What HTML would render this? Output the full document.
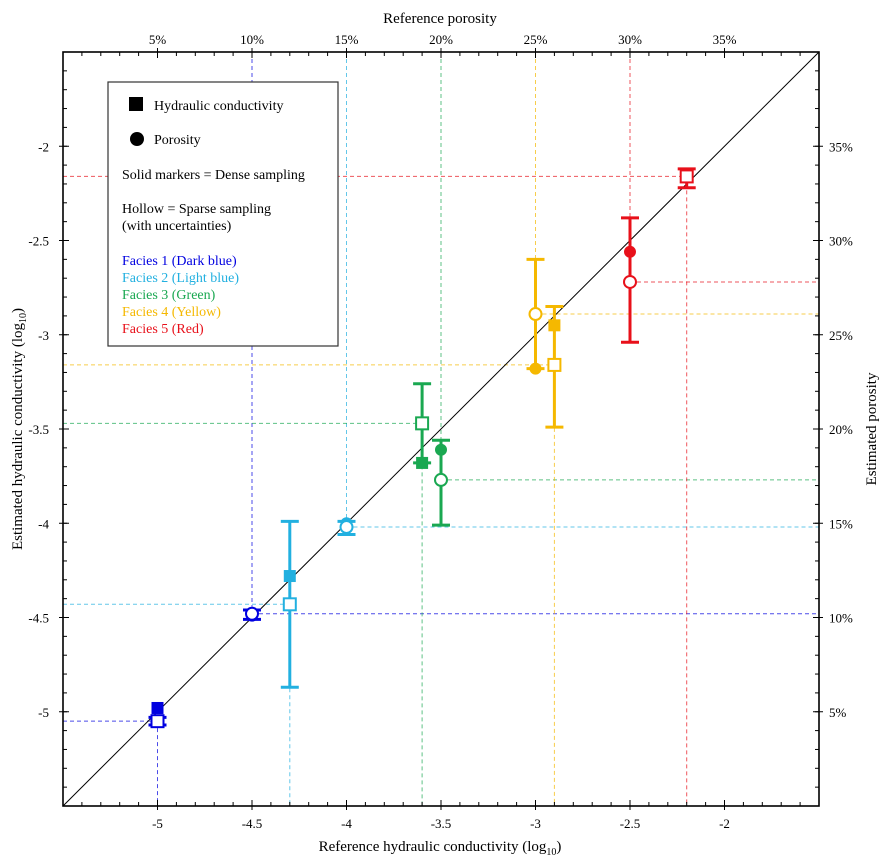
<!DOCTYPE html>
<html><head><meta charset="utf-8"><style>
body{margin:0;background:#fff;}
svg{display:block;font-family:"Liberation Serif",serif;}
</style></head><body>
<svg id="chart" width="895" height="863" xmlns="http://www.w3.org/2000/svg">
<g id="grid"></g>
<line id="diag" stroke="#000" stroke-width="1"/>
<g id="marks"></g>
<rect x="63" y="52" width="756" height="754" fill="none" stroke="#000" stroke-width="1.6"/>
<g id="axes" font-size="13"></g>
<text x="440" y="851" font-size="15" text-anchor="middle">Reference hydraulic conductivity (log<tspan font-size="10" dy="4">10</tspan><tspan dy="-4">)</tspan></text>
<text x="440" y="23" font-size="15" text-anchor="middle">Reference porosity</text>
<text transform="translate(22,429) rotate(-90)" font-size="15" text-anchor="middle">Estimated hydraulic conductivity (log<tspan font-size="10" dy="4">10</tspan><tspan dy="-4">)</tspan></text>
<text transform="translate(876,429) rotate(-90)" font-size="15" text-anchor="middle">Estimated porosity</text>
<g>
<rect x="108" y="82" width="230" height="264" fill="#fff" stroke="#333" stroke-width="1.2"/>
<rect x="129" y="97" width="14" height="14" fill="#000"/>
<text x="154" y="110" font-size="14">Hydraulic conductivity</text>
<circle cx="137" cy="139" r="7" fill="#000"/>
<text x="154" y="144" font-size="14">Porosity</text>
<text x="122" y="179" font-size="14">Solid markers = Dense sampling</text>
<text x="122" y="213" font-size="14">Hollow = Sparse sampling</text>
<text x="122" y="230" font-size="14">(with uncertainties)</text>
<text x="122" y="265" font-size="14" fill="#0000e0">Facies 1 (Dark blue)</text>
<text x="122" y="282" font-size="14" fill="#22b0e0">Facies 2 (Light blue)</text>
<text x="122" y="299" font-size="14" fill="#1aa851">Facies 3 (Green)</text>
<text x="122" y="316" font-size="14" fill="#f5b800">Facies 4 (Yellow)</text>
<text x="122" y="333" font-size="14" fill="#e8101a">Facies 5 (Red)</text>
</g>
</svg>
<script>
const colors=["#0000e0","#22b0e0","#1aa851","#f5b800","#e8101a"];
const kRef=[-5,-4.3,-3.6,-2.9,-2.2];
const kDense=[-4.98,-4.28,-3.68,-2.95,-2.16];
const kSparse=[-5.05,-4.43,-3.47,-3.16,-2.16];
const kLow=[-5.07,-4.87,-3.68,-3.49,-2.22];
const kHigh=[-5.03,-3.99,-3.26,-2.85,-2.12];
const pRef=[10,15,20,25,30];
const pDense=[-4.49,-4.0,-3.61,-3.18,-2.56];
const pSparse=[-4.48,-4.02,-3.77,-2.89,-2.72];
const pLow=[-4.51,-4.06,-4.01,-3.18,-3.04];
const pHigh=[-4.46,-3.99,-3.56,-2.60,-2.38];
const xTicks=[-5,-4.5,-4,-3.5,-3,-2.5,-2];
const yTicks=[-2,-2.5,-3,-3.5,-4,-4.5,-5];
const pctTicks=[5,10,15,20,25,30,35];
const X0=63,X1=819,Y0=52,Y1=806;
const xs=v=>X0+(v+5.5)/4*(X1-X0);
const ys=v=>Y0+(-1.5-v)/4*(Y1-Y0);
const pv=p=>-5.5+p/10;
const NS="http://www.w3.org/2000/svg";
function mk(parent,tag,attrs){const e=document.createElementNS(NS,tag);for(const k in attrs)e.setAttribute(k,attrs[k]);parent.appendChild(e);return e;}
const grid=document.getElementById('grid'),marks=document.getElementById('marks'),axes=document.getElementById('axes');
const d=document.getElementById('diag');d.setAttribute('x1',xs(-5.5));d.setAttribute('y1',ys(-5.5));d.setAttribute('x2',xs(-1.5));d.setAttribute('y2',ys(-1.5));
function dl(x1,y1,x2,y2,c,name){const l=mk(grid,'line',{x1,y1,x2,y2,stroke:c,'stroke-width':1,'stroke-dasharray':'4,3',opacity:0.7});

}
for(let i=0;i<5;i++){
 const c=colors[i];
 dl(xs(kRef[i]),ys(kSparse[i]),xs(kRef[i]),Y1,c,'k-ref-vline');
 dl(X0,ys(kSparse[i]),xs(kRef[i]),ys(kSparse[i]),c,'k-ref-hline');
 const px=xs(pv(pRef[i]));
 dl(px,Y0,px,ys(pSparse[i]),c,'p-ref-vline');
 dl(px,ys(pSparse[i]),X1,ys(pSparse[i]),c,'p-ref-hline');
}
function err(x,lo,hi,c,name){const g=mk(marks,'g',{stroke:c,'stroke-width':3});


mk(g,'line',{x1:x,x2:x,y1:ys(lo),y2:ys(hi)});
mk(g,'line',{x1:x-9,x2:x+9,y1:ys(lo),y2:ys(lo)});
mk(g,'line',{x1:x-9,x2:x+9,y1:ys(hi),y2:ys(hi)});}
for(let i=0;i<5;i++){
 const c=colors[i];
 const kx=xs(kRef[i]);
 err(kx,kLow[i],kHigh[i],c,'k-error-bar');
 let e=mk(marks,'rect',{x:kx-6,y:ys(kDense[i])-6,width:12,height:12,fill:c});
 
 
 e=mk(marks,'rect',{x:kx-6,y:ys(kSparse[i])-6,width:12,height:12,fill:'#fff',stroke:c,'stroke-width':2});
 
 
 const px=xs(pv(pRef[i]));
 err(px,pLow[i],pHigh[i],c,'p-error-bar');
 e=mk(marks,'circle',{cx:px,cy:ys(pDense[i]),r:6,fill:c});
 
 
 e=mk(marks,'circle',{cx:px,cy:ys(pSparse[i]),r:6,fill:'#fff',stroke:c,'stroke-width':2});
 
 
}
function txt(x,y,s,anchor,name){const t=mk(axes,'text',{x,y,'text-anchor':anchor});t.textContent=s;

}
for(let k=1;k<40;k++){const v=-5.5+k*0.1,x=xs(v),y=ys(v);
 mk(axes,'line',{x1:x,x2:x,y1:Y1,y2:Y1-4,stroke:'#000'});
 mk(axes,'line',{x1:x,x2:x,y1:Y0,y2:Y0+4,stroke:'#000'});
 mk(axes,'line',{x1:X0,x2:X0+4,y1:y,y2:y,stroke:'#000'});
 mk(axes,'line',{x1:X1,x2:X1-4,y1:y,y2:y,stroke:'#000'});}
for(const v of xTicks){const x=xs(v);mk(axes,'line',{x1:x,x2:x,y1:Y1-6,y2:Y1+4,stroke:'#000'});txt(x,Y1+22,String(v),'middle','x-tick-label');}
for(const v of yTicks){const y=ys(v);mk(axes,'line',{x1:X0-4,x2:X0+6,y1:y,y2:y,stroke:'#000'});txt(X0-14,y+5,String(v),'end','y-tick-label');}
for(const p of pctTicks){const x=xs(pv(p)),y=ys(pv(p));
 mk(axes,'line',{x1:x,x2:x,y1:Y0-4,y2:Y0+6,stroke:'#000'});txt(x,Y0-8,p+'%','middle','top-tick-label');
 mk(axes,'line',{x1:X1-6,x2:X1+4,y1:y,y2:y,stroke:'#000'});txt(X1+10,y+5,p+'%','start','right-tick-label');}
</script>
</body></html>
